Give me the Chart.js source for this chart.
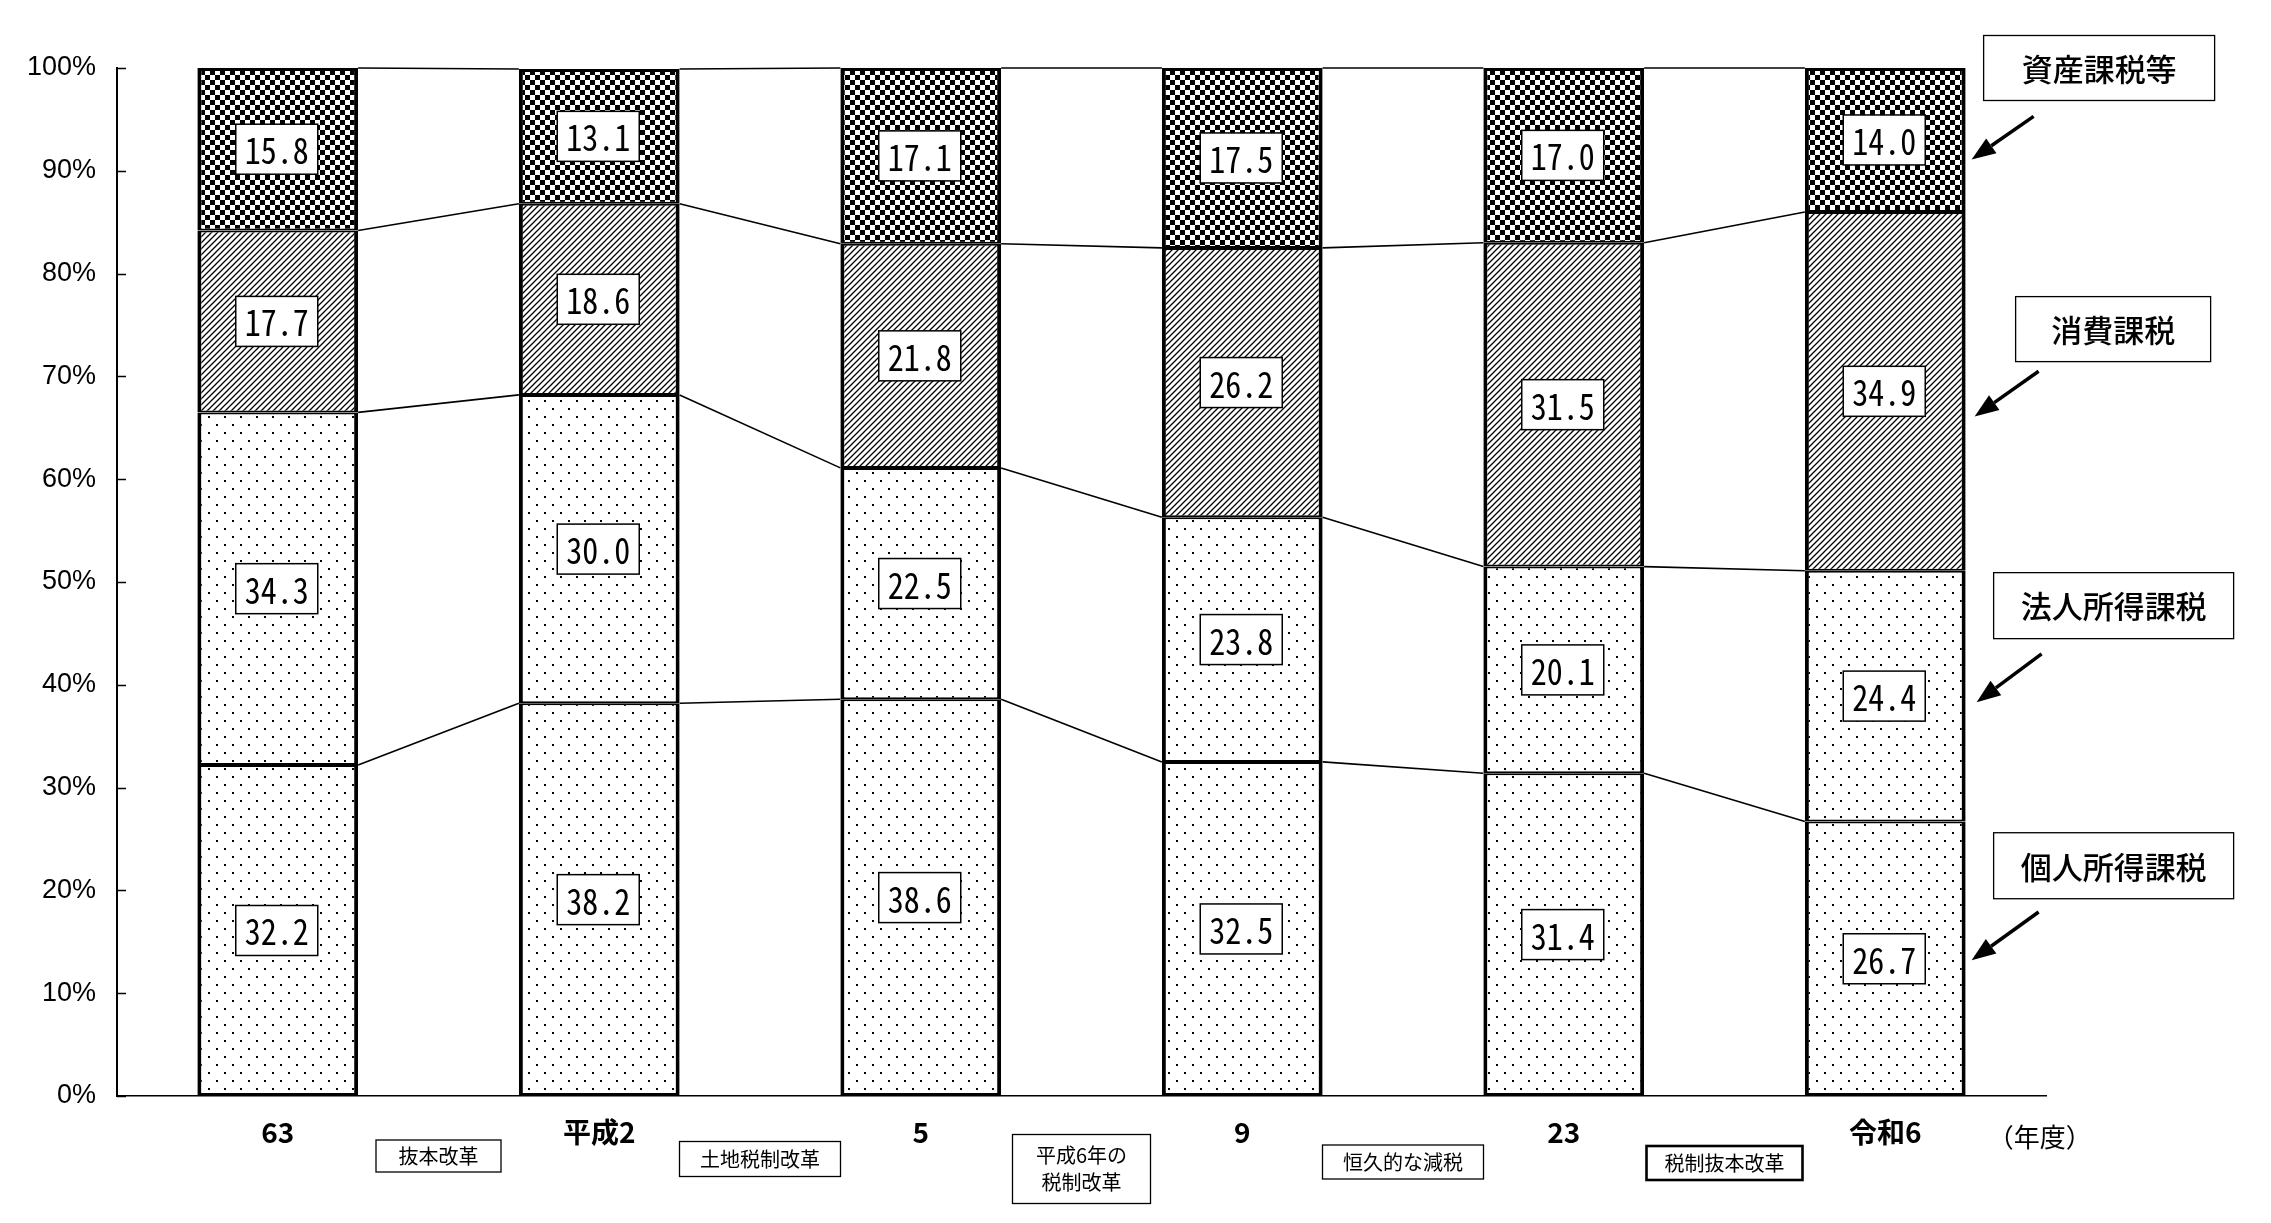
<!DOCTYPE html>
<html>
<head>
  <meta charset="UTF-8" />
  <title>税収の構成比の推移</title>
  <script src="https://cdn.jsdelivr.net/npm/chart.js"></script>
  <style>
    html, body {
      margin: 0;
      padding: 0;
      background: #fff;
    }
    #wrap {
      width: 2271px;
      height: 1223px;
    }
  </style>
</head>
<body>
  <div id="wrap"><canvas id="taxChart" width="2271" height="1223"></canvas></div>

  <script>
    // 年度と各課税の構成比（%）
    const years = ['63', '平成2', '5', '9', '23', '令和6'];
    const kojin = [32.2, 38.2, 38.6, 32.5, 31.4, 26.7];   // 個人所得課税
    const hojin = [34.3, 30.0, 22.5, 23.8, 20.1, 24.4];   // 法人所得課税
    const shohi = [17.7, 18.6, 21.8, 26.2, 31.5, 34.9];   // 消費課税
    const shisan = [15.8, 13.1, 17.1, 17.5, 17.0, 14.0];  // 資産課税等
    const seriesNames = ['個人所得課税', '法人所得課税', '消費課税', '資産課税等'];
    const reforms = ['抜本改革', '土地税制改革', '平成6年の\n税制改革', '恒久的な減税', '税制抜本改革'];
    const yTickValues = [0, 10, 20, 30, 40, 50, 60, 70, 80, 90, 100];

    const JP = "'Noto Sans CJK JP', 'Noto Sans', sans-serif";
    const MONO = "'Noto Sans Mono CJK JP', 'DejaVu Sans Mono', monospace";

    function makePattern(kind) {
      const c = document.createElement('canvas');
      const g = c.getContext('2d');
      if (kind === 'dots') {
        c.width = 16; c.height = 16;
        g.fillStyle = '#fff'; g.fillRect(0, 0, 16, 16);
        g.fillStyle = '#000';
        g.fillRect(0, 0, 2, 2);
        g.fillRect(8, 8, 2, 2);
      } else if (kind === 'hatch') {
        c.width = 6; c.height = 6;
        g.fillStyle = '#fff'; g.fillRect(0, 0, 6, 6);
        g.strokeStyle = '#000';
        g.lineWidth = 1.3;
        g.beginPath();
        g.moveTo(-1, 7); g.lineTo(7, -1);
        g.moveTo(-4, 4); g.lineTo(4, -4);
        g.moveTo(2, 10); g.lineTo(10, 2);
        g.stroke();
      } else {
        c.width = 10; c.height = 10;
        g.fillStyle = '#fff'; g.fillRect(0, 0, 10, 10);
        g.fillStyle = '#000';
        g.fillRect(0, 0, 5, 5);
        g.fillRect(5, 5, 5, 5);
      }
      return g.createPattern(c, 'repeat');
    }

    const fills = [makePattern('dots'), makePattern('dots'), makePattern('hatch'), makePattern('checker')];
    const borders = [
      { left: 4, right: 4, top: 2, bottom: 3 },
      { left: 4, right: 4, top: 2, bottom: 2 },
      { left: 4, right: 4, top: 2, bottom: 2 },
      { left: 4, right: 4, top: 3, bottom: 2 }
    ];

    // 右側の凡例ボックスと矢印（dx は最後の棒の右端から、値は y 軸の%位置）
    const sideNotes = [
      { name: 3, dx: 18, w: 231, h: 65, v: 100.0, tail: [68, 95.3], tip: [6, 91.1] },
      { name: 2, dx: 50, w: 195, h: 65, v: 74.6, tail: [73, 70.5], tip: [9, 66.1] },
      { name: 1, dx: 28, w: 240, h: 66, v: 47.7, tail: [76, 43.0], tip: [11, 38.3] },
      { name: 0, dx: 28, w: 240, h: 66, v: 22.4, tail: [73, 17.9], tip: [6, 13.2] }
    ];
    // 年度の間の改正ボックス
    const reformBoxes = [
      { w: 125, h: 32, cy: 1156, lw: 1.3 },
      { w: 161, h: 35, cy: 1159, lw: 1.3 },
      { w: 138, h: 69, cy: 1169, lw: 1.3 },
      { w: 161, h: 34, cy: 1162, lw: 1.3 },
      { w: 156, h: 34, cy: 1163, lw: 2.6 }
    ];

    function drawArrow(ctx, x1, y1, x2, y2) {
      const ang = Math.atan2(y2 - y1, x2 - x1);
      const head = 24, half = 9;
      const bx = x2 - Math.cos(ang) * head, by = y2 - Math.sin(ang) * head;
      ctx.lineWidth = 3.5;
      ctx.beginPath();
      ctx.moveTo(x1, y1);
      ctx.lineTo(bx, by);
      ctx.stroke();
      ctx.beginPath();
      ctx.moveTo(x2, y2);
      ctx.lineTo(bx + Math.sin(ang) * half, by - Math.cos(ang) * half);
      ctx.lineTo(bx - Math.sin(ang) * half, by + Math.cos(ang) * half);
      ctx.closePath();
      ctx.fill();
    }

    const decorations = {
      id: 'decorations',
      afterDatasetsDraw(chart) {
        const ctx = chart.ctx;
        ctx.save();
        ctx.strokeStyle = '#000';
        ctx.lineWidth = 1.6;
        // 区分線（棒の各境界を結ぶ線）
        chart.data.datasets.forEach((ds, d) => {
          const els = chart.getDatasetMeta(d).data;
          for (let i = 0; i < els.length - 1; i++) {
            const a = els[i], b = els[i + 1];
            ctx.beginPath();
            ctx.moveTo(a.x + a.width / 2, a.y);
            ctx.lineTo(b.x - b.width / 2, b.y);
            ctx.stroke();
          }
        });
        // 値ラベル
        chart.data.datasets.forEach((ds, d) => {
          chart.getDatasetMeta(d).data.forEach((el, i) => {
            const cx = el.x - 1, cy = (el.y + el.base) / 2;
            const bw = 82, bh = 50;
            ctx.fillStyle = '#fff';
            ctx.fillRect(cx - bw / 2, cy - bh / 2, bw, bh);
            ctx.lineWidth = 1.5;
            ctx.strokeRect(cx - bw / 2, cy - bh / 2, bw, bh);
            const txt = ds.data[i].toFixed(1);
            ctx.font = '32px ' + MONO;
            const tw = ctx.measureText(txt).width;
            ctx.save();
            ctx.translate(cx, cy + 1);
            ctx.scale(64 / tw, 1.15);
            ctx.fillStyle = '#000';
            ctx.textAlign = 'center';
            ctx.textBaseline = 'middle';
            ctx.fillText(txt, 0, 0);
            ctx.restore();
          });
        });
        ctx.restore();
      },
      afterDraw(chart) {
        const ctx = chart.ctx;
        const area = chart.chartArea;
        const x = chart.scales.x, y = chart.scales.y;
        const lastMeta = chart.getDatasetMeta(0).data;
        const lastBar = lastMeta[lastMeta.length - 1];
        const barRight = lastBar.x + lastBar.width / 2;
        ctx.save();
        ctx.strokeStyle = '#000';
        ctx.fillStyle = '#000';

        // y軸の内向き目盛
        ctx.lineWidth = 1.5;
        yTickValues.forEach(v => {
          const py = Math.round(y.getPixelForValue(v)) + 0.5;
          ctx.beginPath();
          ctx.moveTo(area.left, py);
          ctx.lineTo(area.left + 9, py);
          ctx.stroke();
        });

        // 右側のボックスと矢印
        sideNotes.forEach(n => {
          const bx = barRight + n.dx, cy = y.getPixelForValue(n.v);
          ctx.fillStyle = '#fff';
          ctx.fillRect(bx, cy - n.h / 2, n.w, n.h);
          ctx.lineWidth = 1.3;
          ctx.strokeRect(bx, cy - n.h / 2, n.w, n.h);
          ctx.fillStyle = '#000';
          ctx.font = '500 31px ' + JP;
          ctx.textAlign = 'center';
          ctx.textBaseline = 'middle';
          ctx.fillText(seriesNames[n.name], bx + n.w / 2, cy + 1);
          drawArrow(ctx, barRight + n.tail[0], y.getPixelForValue(n.tail[1]),
            barRight + n.tip[0], y.getPixelForValue(n.tip[1]));
        });

        // 年度の間の改正ボックス
        reforms.forEach((r, i) => {
          const b = reformBoxes[i];
          const cx = (x.getPixelForValue(i) + x.getPixelForValue(i + 1)) / 2;
          ctx.fillStyle = '#fff';
          ctx.fillRect(cx - b.w / 2, b.cy - b.h / 2, b.w, b.h);
          ctx.lineWidth = b.lw;
          ctx.strokeRect(cx - b.w / 2, b.cy - b.h / 2, b.w, b.h);
          ctx.fillStyle = '#000';
          ctx.font = '20px ' + JP;
          ctx.textAlign = 'center';
          ctx.textBaseline = 'middle';
          const lines = r.split('\n');
          lines.forEach((t, k) => {
            ctx.fillText(t, cx, b.cy + (k - (lines.length - 1) / 2) * 27);
          });
        });

        // 単位
        ctx.font = '26px ' + JP;
        ctx.textAlign = 'center';
        ctx.textBaseline = 'middle';
        ctx.fillText('（年度）', barRight + 74, 1137);
        ctx.restore();
      }
    };

    const chart = new Chart(document.getElementById('taxChart'), {
      type: 'bar',
      data: {
        labels: years,
        datasets: [kojin, hojin, shohi, shisan].map((d, i) => ({
          label: seriesNames[i],
          data: d,
          backgroundColor: fills[i],
          borderColor: '#000',
          borderWidth: borders[i],
          borderSkipped: false,
          categoryPercentage: 0.5,
          barPercentage: 1
        }))
      },
      options: {
        responsive: false,
        animation: false,
        devicePixelRatio: 1,
        layout: { padding: { top: 68, right: 225, left: 0, bottom: 0 } },
        plugins: {
          legend: { display: false },
          tooltip: { enabled: false }
        },
        scales: {
          x: {
            stacked: true,
            offset: true,
            afterFit: s => { s.height = 127; },
            grid: { display: false, drawTicks: false },
            border: { display: true, color: '#000', width: 1.5 },
            ticks: {
              autoSkip: false,
              maxRotation: 0,
              padding: 20,
              color: '#000',
              font: { family: JP, size: 28, weight: 'bold' }
            }
          },
          y: {
            stacked: true,
            min: 0,
            max: 100,
            afterBuildTicks: s => { s.ticks = yTickValues.map(v => ({ value: v })); },
            afterFit: s => { s.width = 117; },
            grid: { display: false, drawTicks: false },
            border: { display: true, color: '#000', width: 2 },
            ticks: {
              padding: 21,
              color: '#000',
              font: { family: "'Liberation Sans Narrow', 'Liberation Sans', sans-serif", size: 27 },
              callback: v => v + '%'
            }
          }
        }
      },
      plugins: [decorations]
    });
  </script>
</body>
</html>
